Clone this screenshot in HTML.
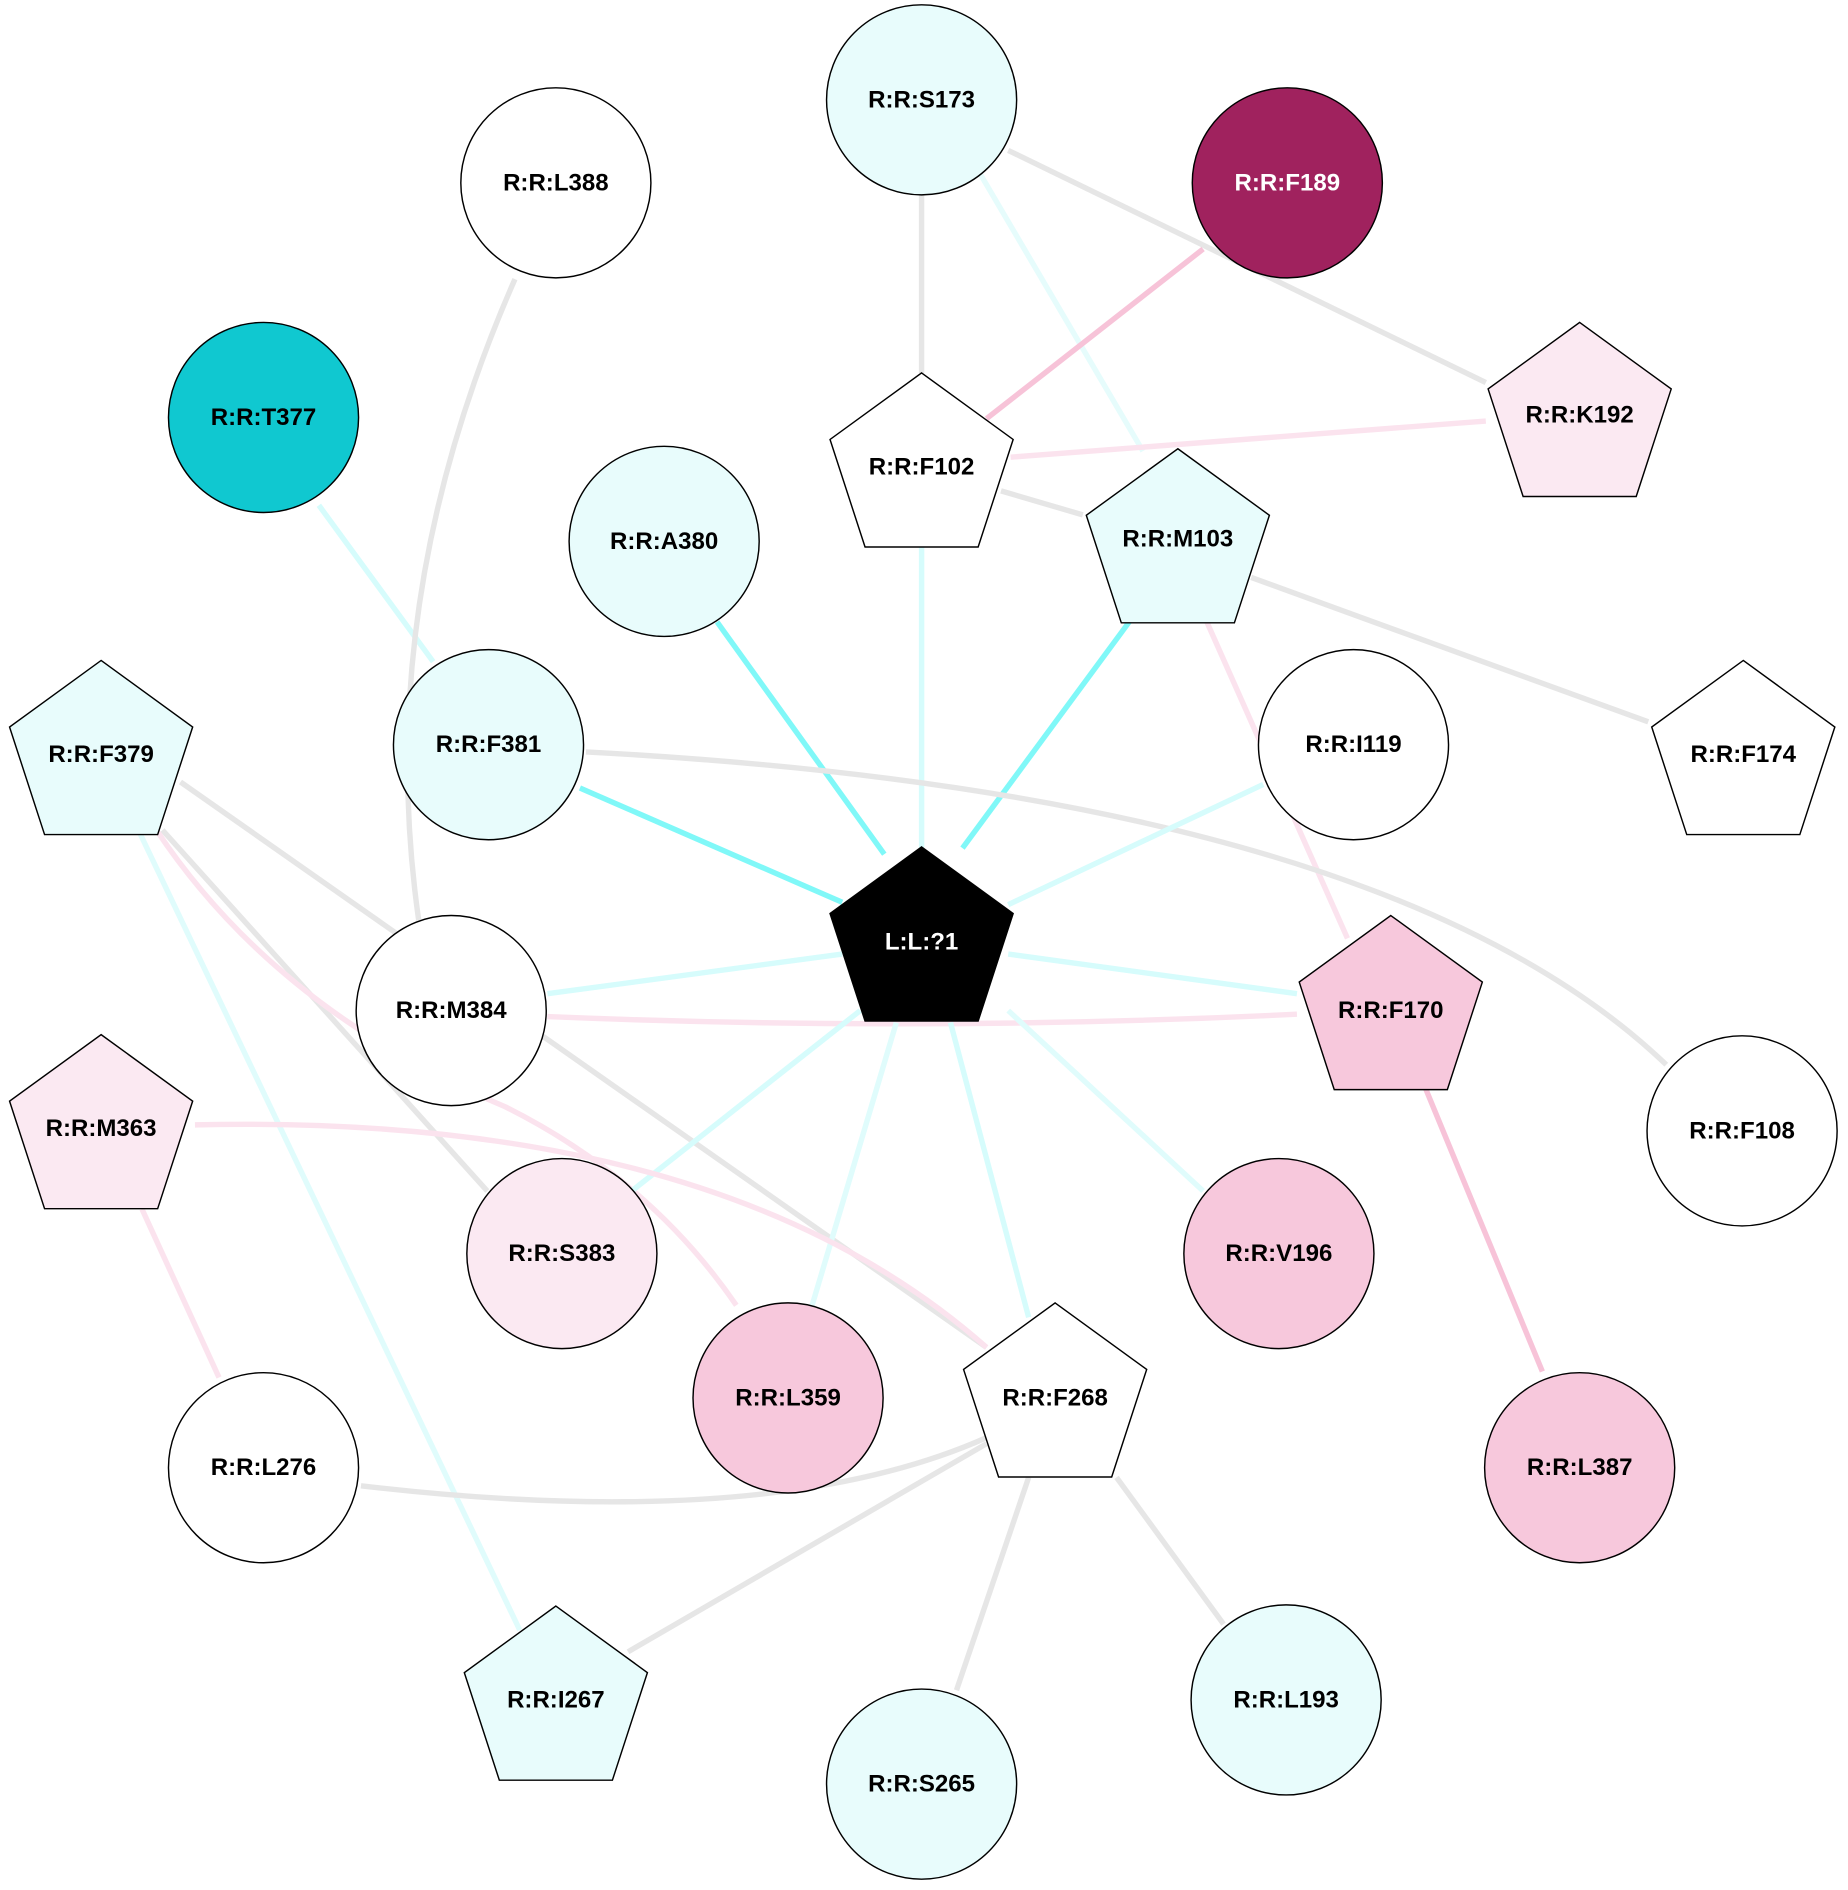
<!DOCTYPE html>
<html><head><meta charset="utf-8"><style>
html,body{margin:0;padding:0;background:#fff;}
svg{display:block;}
text{font-family:"Liberation Sans",Arial,sans-serif;font-weight:bold;font-size:20px;text-anchor:middle;dominant-baseline:central;}
</style></head><body>
<svg width="1848" height="1890" viewBox="0 0 1536 1571" xmlns="http://www.w3.org/2000/svg">
<g fill="none" stroke-width="4.5">
<line x1="766" y1="160" x2="766" y2="310" stroke="#e6e6e6"/>
<line x1="838" y1="125" x2="1235" y2="318" stroke="#e6e6e6"/>
<line x1="815" y1="145" x2="950" y2="375" stroke="#e6fcfc"/>
<line x1="1000" y1="207" x2="820" y2="348" stroke="#f7c3d8"/>
<line x1="1235" y1="350" x2="840" y2="380" stroke="#fbe3ee"/>
<line x1="832" y1="408" x2="900" y2="428" stroke="#e6e6e6"/>
<line x1="766" y1="455" x2="766" y2="705" stroke="#d6fcfc"/>
<line x1="940" y1="515" x2="800" y2="705" stroke="#80f8f8"/>
<line x1="1040" y1="480" x2="1370" y2="600" stroke="#e6e6e6"/>
<line x1="1000" y1="510" x2="1120" y2="780" stroke="#fbe3ee"/>
<line x1="596" y1="517" x2="735" y2="710" stroke="#80f8f8"/>
<line x1="265" y1="420" x2="360" y2="550" stroke="#d6fcfc"/>
<path d="M428,232 Q310,500 348,765" stroke="#e6e6e6"/>
<line x1="482" y1="655" x2="700" y2="750" stroke="#80f8f8"/>
<path d="M487,625 Q1150,660 1385,885" stroke="#e6e6e6"/>
<line x1="1050" y1="652" x2="838" y2="752" stroke="#d6fcfc"/>
<line x1="150" y1="650" x2="820" y2="1120" stroke="#e6e6e6"/>
<line x1="135" y1="690" x2="405" y2="990" stroke="#e6e6e6"/>
<path d="M130,690 Q230,840 420,920 Q540,980 612,1085" stroke="#fbe3ee"/>
<line x1="115" y1="690" x2="432" y2="1355" stroke="#e0fcfc"/>
<line x1="455" y1="826" x2="700" y2="793" stroke="#d6fcfc"/>
<path d="M455,845 Q770,858 1078,843" stroke="#fbe3ee"/>
<line x1="838" y1="793" x2="1078" y2="826" stroke="#d6fcfc"/>
<line x1="715" y1="840" x2="525" y2="990" stroke="#d6fcfc"/>
<line x1="745" y1="850" x2="675" y2="1085" stroke="#e0fcfc"/>
<line x1="790" y1="850" x2="855" y2="1095" stroke="#d6fcfc"/>
<line x1="838" y1="840" x2="1000" y2="990" stroke="#e0fcfc"/>
<line x1="1185" y1="905" x2="1282" y2="1140" stroke="#f7c3d8"/>
<line x1="118" y1="1005" x2="182" y2="1145" stroke="#fbe3ee"/>
<path d="M162,935 Q600,925 820,1120" stroke="#fbe3ee"/>
<path d="M820,1195 Q640,1275 300,1235" stroke="#e6e6e6"/>
<line x1="820" y1="1200" x2="522" y2="1373" stroke="#e6e6e6"/>
<line x1="855" y1="1228" x2="795" y2="1405" stroke="#e6e6e6"/>
<line x1="928" y1="1228" x2="1017" y2="1350" stroke="#e6e6e6"/>
</g>
<g stroke="#000" stroke-width="1.2">
<circle cx="766" cy="83" r="79" fill="#e8fcfc"/>
<circle cx="462" cy="152" r="79" fill="#fff"/>
<circle cx="1070" cy="152" r="79" fill="#a0225e"/>
<circle cx="219" cy="347" r="79" fill="#10c8d0"/>
<circle cx="552" cy="450" r="79" fill="#e8fcfc"/>
<circle cx="406" cy="619" r="79" fill="#e8fcfc"/>
<circle cx="1125" cy="619" r="79" fill="#fff"/>
<circle cx="375" cy="840" r="79" fill="#fff"/>
<circle cx="1448" cy="940" r="79" fill="#fff"/>
<circle cx="467" cy="1042" r="79" fill="#fbe9f2"/>
<circle cx="1063" cy="1042" r="79" fill="#f7c8dc"/>
<circle cx="655" cy="1162" r="79" fill="#f7c8dc"/>
<circle cx="219" cy="1220" r="79" fill="#fff"/>
<circle cx="1313" cy="1220" r="79" fill="#f7c8dc"/>
<circle cx="1069" cy="1413" r="79" fill="#e8fcfc"/>
<circle cx="766" cy="1483" r="79" fill="#e8fcfc"/>
</g>
<g stroke="#000" stroke-width="1.2">
<polygon points="0,-80 76.1,-24.7 47,64.7 -47,64.7 -76.1,-24.7" transform="translate(766,390)" fill="#fff"/>
<polygon points="0,-80 76.1,-24.7 47,64.7 -47,64.7 -76.1,-24.7" transform="translate(1313,348)" fill="#fbe9f2"/>
<polygon points="0,-80 76.1,-24.7 47,64.7 -47,64.7 -76.1,-24.7" transform="translate(979,453)" fill="#e8fcfc"/>
<polygon points="0,-80 76.1,-24.7 47,64.7 -47,64.7 -76.1,-24.7" transform="translate(84,629)" fill="#e8fcfc"/>
<polygon points="0,-80 76.1,-24.7 47,64.7 -47,64.7 -76.1,-24.7" transform="translate(1449,629)" fill="#fff"/>
<polygon points="0,-80 76.1,-24.7 47,64.7 -47,64.7 -76.1,-24.7" transform="translate(766,784)" fill="#000"/>
<polygon points="0,-80 76.1,-24.7 47,64.7 -47,64.7 -76.1,-24.7" transform="translate(1156,841)" fill="#f7c8dc"/>
<polygon points="0,-80 76.1,-24.7 47,64.7 -47,64.7 -76.1,-24.7" transform="translate(84,940)" fill="#fbe9f2"/>
<polygon points="0,-80 76.1,-24.7 47,64.7 -47,64.7 -76.1,-24.7" transform="translate(877,1163)" fill="#fff"/>
<polygon points="0,-80 76.1,-24.7 47,64.7 -47,64.7 -76.1,-24.7" transform="translate(462,1415)" fill="#e8fcfc"/>
</g>
<g fill="#000">
<text x="766" y="83">R:R:S173</text>
<text x="462" y="152">R:R:L388</text>
<text x="1070" y="152" fill="#fff">R:R:F189</text>
<text x="219" y="347">R:R:T377</text>
<text x="766" y="388">R:R:F102</text>
<text x="1313" y="345">R:R:K192</text>
<text x="552" y="450">R:R:A380</text>
<text x="979" y="448">R:R:M103</text>
<text x="84" y="627">R:R:F379</text>
<text x="406" y="619">R:R:F381</text>
<text x="1125" y="619">R:R:I119</text>
<text x="1449" y="627">R:R:F174</text>
<text x="766" y="783" fill="#fff">L:L:?1</text>
<text x="375" y="840">R:R:M384</text>
<text x="1156" y="840">R:R:F170</text>
<text x="1448" y="940">R:R:F108</text>
<text x="84" y="938">R:R:M363</text>
<text x="467" y="1042">R:R:S383</text>
<text x="1063" y="1042">R:R:V196</text>
<text x="655" y="1162">R:R:L359</text>
<text x="877" y="1162">R:R:F268</text>
<text x="219" y="1220">R:R:L276</text>
<text x="1313" y="1220">R:R:L387</text>
<text x="462" y="1413">R:R:I267</text>
<text x="1069" y="1413">R:R:L193</text>
<text x="766" y="1483">R:R:S265</text>
</g>
</svg>
</body></html>
